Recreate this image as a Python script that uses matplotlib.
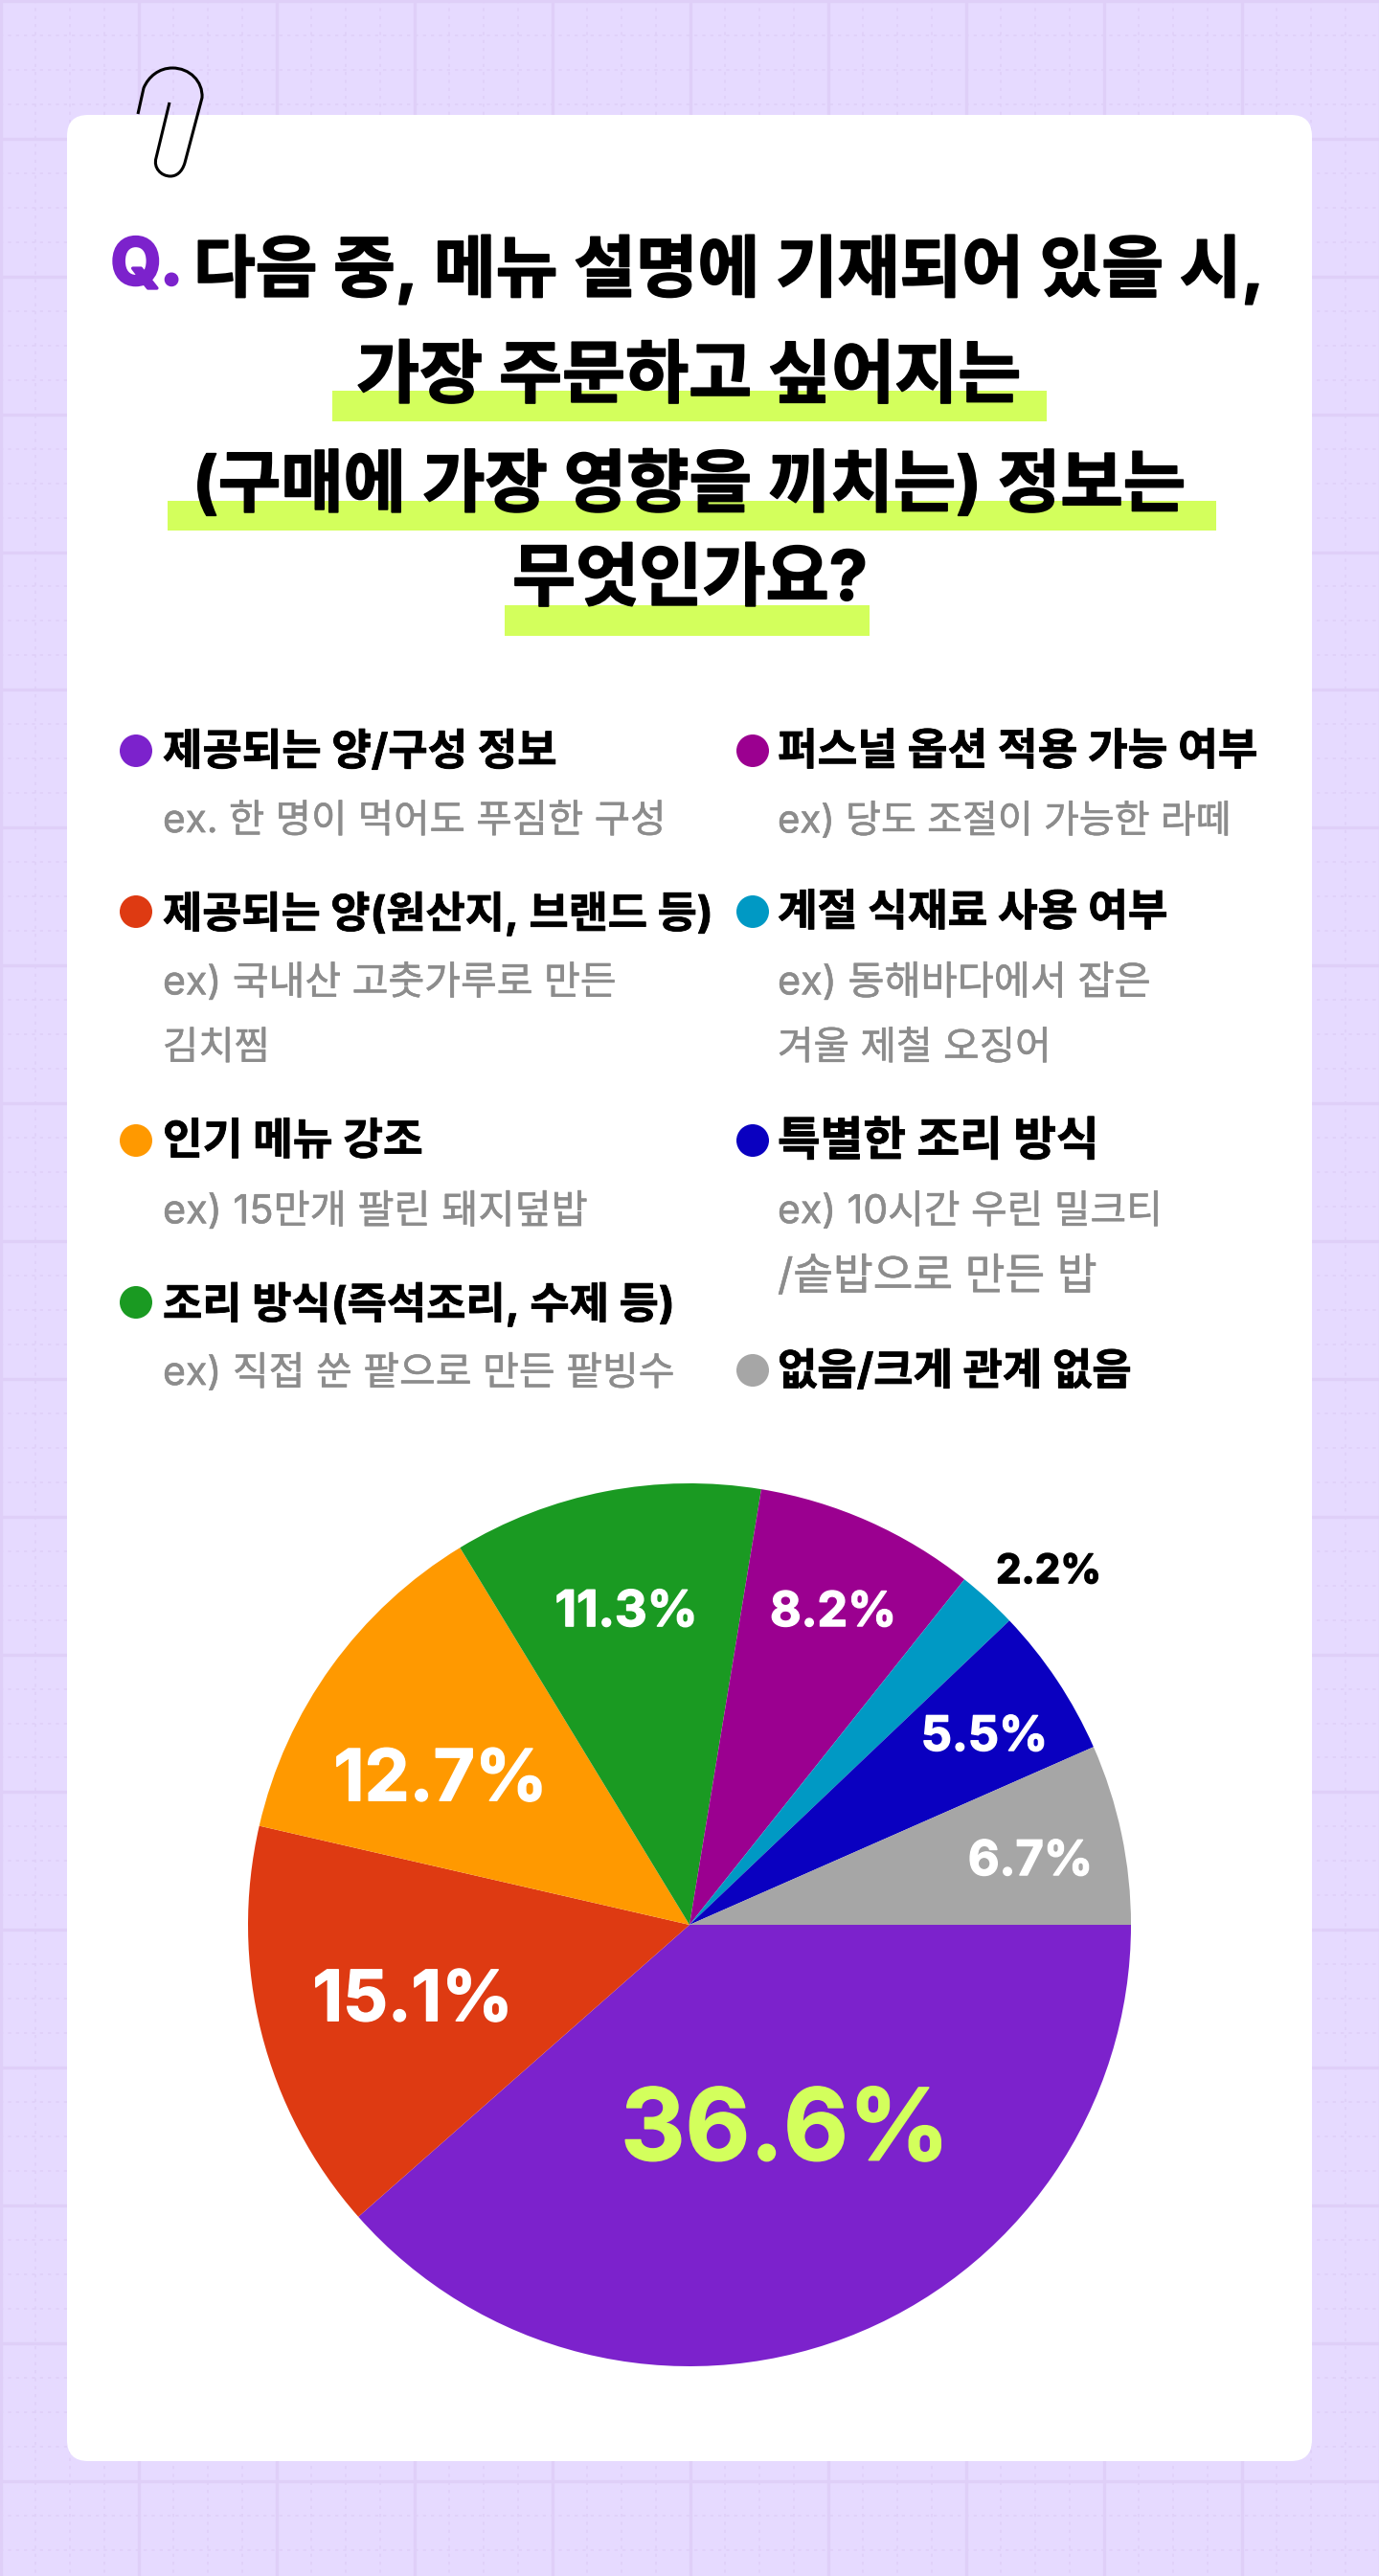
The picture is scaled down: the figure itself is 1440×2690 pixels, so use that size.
import matplotlib
matplotlib.use('Agg')
import matplotlib.pyplot as plt
import matplotlib.patheffects as pe
from matplotlib.patches import FancyBboxPatch, Rectangle, Circle, PathPatch
from matplotlib.path import Path

W, H = 1440, 2690
KR = ['Inter', 'Noto Sans CJK KR', 'DejaVu Sans']

# slice sizes as drawn (the first slice is drawn larger than its 36.6% label)
pie_values = [38.5, 15.1, 12.7, 11.3, 8.1, 2.2, 5.5, 6.6]
pie_labels = ['36.6%', '15.1%', '12.7%', '11.3%', '8.2%', '2.2%', '5.5%', '6.7%']
pie_colors = ['#7C22CC', '#DE3A12', '#FF9900', '#1A9A22', '#9B0090', '#0099C4', '#0A00C0', '#A6A6A6']

legend_heads = ['제공되는 양/구성 정보', '제공되는 양(원산지, 브랜드 등)', '인기 메뉴 강조', '조리 방식(즉석조리, 수제 등)',
                '퍼스널 옵션 적용 가능 여부', '계절 식재료 사용 여부', '특별한 조리 방식', '없음/크게 관계 없음']
legend_subs = [['ex. 한 명이 먹어도 푸짐한 구성'], ['ex) 국내산 고춧가루로 만든', '김치찜'],
               ['ex) 15만개 팔린 돼지덮밥'], ['ex) 직접 쑨 팥으로 만든 팥빙수'],
               ['ex) 당도 조절이 가능한 라떼'], ['ex) 동해바다에서 잡은', '겨울 제철 오징어'],
               ['ex) 10시간 우린 밀크티', '/솥밥으로 만든 밥'], []]
title_lines = ['다음 중, 메뉴 설명에 기재되어 있을 시,', '가장 주문하고 싶어지는', '(구매에 가장 영향을 끼치는) 정보는', '무엇인가요?']

fig = plt.figure(figsize=(W / 100, H / 100), dpi=100, facecolor='#E6DAFF')
bg = fig.add_axes([0, 0, 1, 1])
bg.set_xlim(0, W)
bg.set_ylim(H, 0)
bg.axis('off')

# background grid
for k in range(0, 11 * 4 + 1):
    p = 1 + k * 36
    if k % 4 == 0:
        bg.plot([p, p], [0, H], color='#DFCFF8', lw=2.4)
    else:
        bg.plot([p, p], [0, H], color='#DFD0F8', lw=1.2, ls=(0, (2, 3)))
for k in range(0, 19 * 4 + 1):
    p = 1 + k * 35.97
    if k % 4 == 0:
        bg.plot([0, W], [p, p], color='#DFCFF8', lw=2.4)
    else:
        bg.plot([0, W], [p, p], color='#DFD0F8', lw=1.2, ls=(0, (2, 3)))

bg.add_patch(FancyBboxPatch((70, 120), 1300, 2450, boxstyle='round,pad=0,rounding_size=22', fc='white', ec='none', zorder=2))

# paper clip
clip = Path([(144, 119), (150, 92),
             (155, 80), (166, 71), (180, 71),
             (198, 71), (212, 85), (211, 102),
             (193, 170),
             (190, 180), (184, 184), (178, 184),
             (168, 184), (160, 175), (163, 165),
             (177, 107)],
            [Path.MOVETO, Path.LINETO,
             Path.CURVE4, Path.CURVE4, Path.CURVE4,
             Path.CURVE4, Path.CURVE4, Path.CURVE4,
             Path.LINETO,
             Path.CURVE4, Path.CURVE4, Path.CURVE4,
             Path.CURVE4, Path.CURVE4, Path.CURVE4,
             Path.LINETO])
bg.add_patch(PathPatch(clip, fc='none', ec='black', lw=2.2, zorder=5))

renderer = fig.canvas.get_renderer()


def put(a, x, y, s, width, color='black', weight='bold', ha='left', heavy=0.0):
    # size the text so that it takes the same width as in the picture
    t = a.text(x, y, s, color=color, fontweight=weight, family=KR, fontsize=30, ha=ha, va='center', zorder=6)
    w = t.get_window_extent(renderer).width
    size = 30 * width / w
    t.set_fontsize(size)
    t.set_y(y + size * 0.07)
    if heavy:
        t.set_path_effects([pe.withStroke(linewidth=heavy, foreground=color)])
    return t


# title
for x0, x1, y0, y1 in [(347, 1093, 408, 440), (175, 1270, 523, 554), (527, 908, 632, 664)]:
    bg.add_patch(Rectangle((x0, y0), x1 - x0, y1 - y0, fc='#D3FF5C', ec='none', zorder=3))
put(bg, 116, 276, 'Q.', 74, color='#7C22CC', heavy=2.5)
put(bg, 202, 278, title_lines[0], 1119, heavy=1.2)
put(bg, 372, 392, title_lines[1], 695, heavy=1.2)
put(bg, 201, 504, title_lines[2], 1038, heavy=1.2)
put(bg, 535, 604, title_lines[3], 371, heavy=1.2)

# legend
dot_x = [142, 142, 142, 142, 786, 786, 786, 786]
text_x = [170, 170, 170, 170, 812, 812, 812, 812]
head_y = [784, 952, 1191, 1360, 784, 952, 1191, 1431]
head_w = [412, 575, 272, 535, 502, 408, 336, 370]
sub_w = [[526], [474, 112], [444], [535], [474], [390, 286], [402, 334], []]
for i in range(8):
    bg.add_patch(Circle((dot_x[i], head_y[i]), 17, fc=pie_colors[i], ec='none', zorder=6))
    put(bg, text_x[i], head_y[i], legend_heads[i], head_w[i], heavy=0.6)
    for j, s in enumerate(legend_subs[i]):
        put(bg, text_x[i], head_y[i] + 72 + j * 69, s, sub_w[i][j], color='#8C8C8C', weight='normal', heavy=0.4)

# pie
cx, cy, r = 720, 2010, 461
ax = fig.add_axes([(cx - r) / W, 1 - (cy + r) / H, 2 * r / W, 2 * r / H])
ax.set_zorder(3)
ax.pie(pie_values, colors=pie_colors, startangle=0, counterclock=False, radius=1)
ax.set_xlim(-1, 1)
ax.set_ylim(-1, 1)

top = fig.add_axes([0, 0, 1, 1], facecolor='none')
top.set_zorder(4)
top.set_xlim(0, W)
top.set_ylim(H, 0)
top.axis('off')
label_pos = [(820, 2223), (431, 2087), (460, 1857), (654, 1682), (870, 1682), (1095, 1640), (1028, 1812), (1076, 1942)]
label_w = [343, 209, 223, 149, 132, 110, 132, 130]
label_c = ['#D3FF5C', 'white', 'white', 'white', 'white', 'black', 'white', 'white']
for i in range(8):
    put(top, label_pos[i][0], label_pos[i][1], pie_labels[i], label_w[i], color=label_c[i], ha='center', heavy=1.0)

fig.savefig('out.png', dpi=100, facecolor=fig.get_facecolor())
